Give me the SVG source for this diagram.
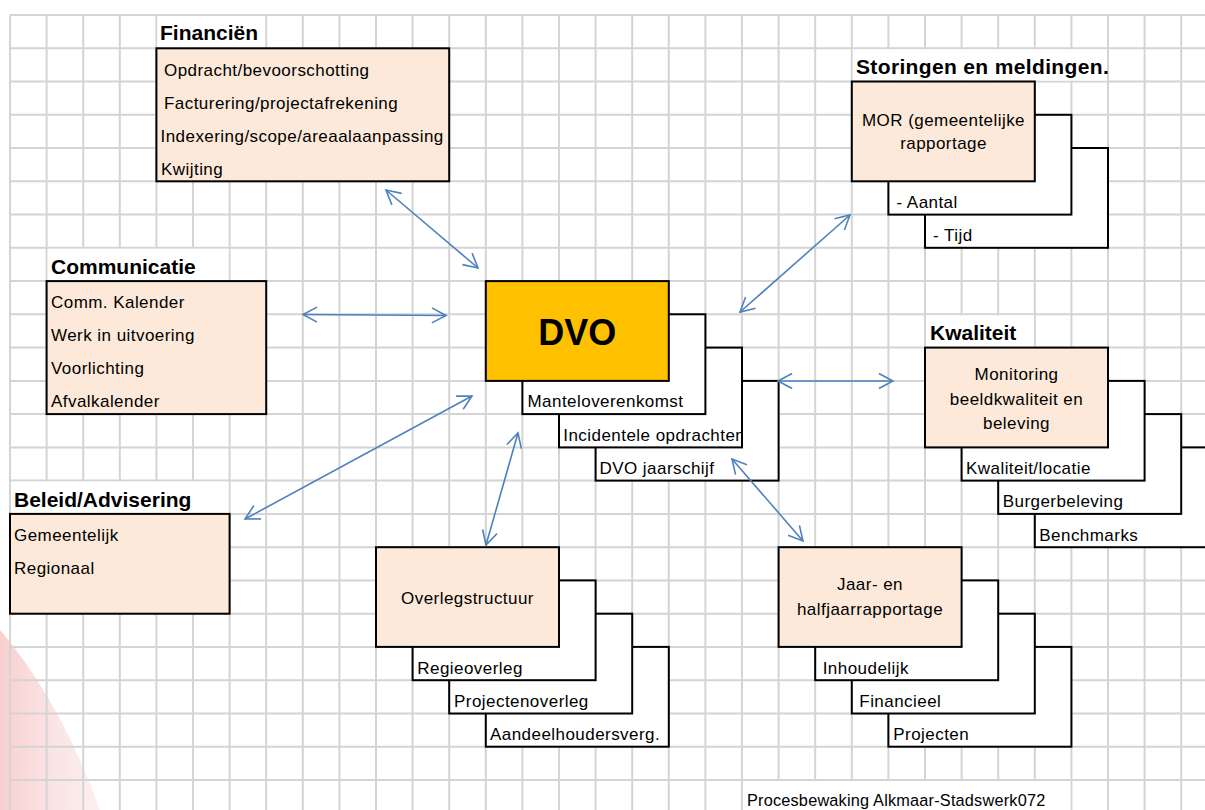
<svg xmlns="http://www.w3.org/2000/svg" width="1205" height="810" viewBox="0 0 1205 810">
<defs>
<style>
.grid{stroke:#d4d4d4;stroke-width:2;fill:none}
.wb{fill:#fff;stroke:none}
.box{fill:#fde9d9;stroke:#000;stroke-width:2}
.sub{fill:#fff;stroke:#000;stroke-width:2}
.dvo{fill:#ffc000;stroke:#000;stroke-width:2}
.t{font-family:"Liberation Sans",Arial,sans-serif;font-size:17px;letter-spacing:0.45px;fill:#000}
.c{text-anchor:middle}
.h{font-family:"Liberation Sans",Arial,sans-serif;font-size:21px;font-weight:bold;fill:#000}
.arr{stroke:#4f81bd;stroke-width:1.6;fill:none;marker-start:url(#ah);marker-end:url(#ah)}
</style>
<marker id="ah" viewBox="-1 -9 17 18" refX="14.1" refY="0" markerWidth="17" markerHeight="18" markerUnits="userSpaceOnUse" orient="auto-start-reverse">
<path d="M0,-7.5 L14.1,0 L0,7.5" fill="none" stroke="#4f81bd" stroke-width="1.6"/>
</marker>
<linearGradient id="pink" x1="0" y1="0" x2="1" y2="0">
<stop offset="0" stop-color="#f7d0d0"/>
<stop offset="0.4" stop-color="#fae0e0"/>
<stop offset="1" stop-color="#fdf0f0"/>
</linearGradient>
<clipPath id="clipInc"><rect x="559" y="347.6" width="183" height="99.8"/></clipPath>
</defs>
<rect width="1205" height="810" fill="#fff"/>
<path d="M0,630 Q60,700 100,810 L0,810 Z" fill="url(#pink)"/>
<path class="grid" d="M10,15V810M46.6,15V810M83.2,15V810M119.8,15V810M156.4,15V810M193,15V810M229.6,15V810M266.2,15V810M302.8,15V810M339.4,15V810M376,15V810M412.6,15V810M449.2,15V810M485.8,15V810M522.4,15V810M559,15V810M595.6,15V810M632.2,15V810M668.8,15V810M705.4,15V810M742,15V810M778.6,15V810M815.2,15V810M851.8,15V810M888.4,15V810M925,15V810M961.6,15V810M998.2,15V810M1034.8,15V810M1071.4,15V810M1108,15V810M1144.6,15V810M1181.2,15V810
M10,15H1205M10,48.3H1205M10,81.5H1205M10,114.8H1205M10,148H1205M10,181.3H1205M10,214.6H1205M10,247.8H1205M10,281.1H1205M10,314.3H1205M10,347.6H1205M10,380.9H1205M10,414.1H1205M10,447.4H1205M10,480.6H1205M10,513.9H1205M10,547.2H1205M10,580.4H1205M10,613.7H1205M10,646.9H1205M10,680.2H1205M10,713.5H1205M10,746.7H1205M10,780H1205"/>
<!-- title cell backgrounds -->
<rect class="wb" x="157.4" y="16" width="107.8" height="31.3"/>
<rect class="wb" x="47.6" y="248.8" width="181" height="31.3"/>
<rect class="wb" x="11" y="481.6" width="217.6" height="31.3"/>
<rect class="wb" x="852.8" y="49.3" width="254.2" height="31.2"/>
<rect class="wb" x="926" y="315.3" width="107.8" height="31.3"/>
<rect class="wb" x="743" y="781" width="327.4" height="29"/>

<g id="financien">
<text class="h" x="160" y="40">Financiën</text>
<rect class="box" x="156.4" y="48.3" width="292.8" height="133"/>
<text class="t" x="164" y="75.5">Opdracht/bevoorschotting</text>
<text class="t" x="164" y="108.5">Facturering/projectafrekening</text>
<text class="t" x="160.5" y="141.5">Indexering/scope/areaalaanpassing</text>
<text class="t" x="161" y="174.5">Kwijting</text>
</g>

<g id="communicatie">
<text class="h" x="51" y="274">Communicatie</text>
<rect class="box" x="46.6" y="281.1" width="219.6" height="133"/>
<text class="t" x="51" y="307.5">Comm. Kalender</text>
<text class="t" x="51" y="340.5">Werk in uitvoering</text>
<text class="t" x="51" y="374">Voorlichting</text>
<text class="t" x="51" y="407">Afvalkalender</text>
</g>

<g id="beleid">
<text class="h" x="14" y="506.5">Beleid/Advisering</text>
<rect class="box" x="10" y="513.9" width="219.6" height="99.8"/>
<text class="t" x="14" y="541">Gemeentelijk</text>
<text class="t" x="14" y="574">Regionaal</text>
</g>

<g id="dvo">
<rect class="sub" x="595.6" y="380.9" width="183" height="99.7"/>
<text class="t" x="599.5" y="473.5">DVO jaarschijf</text>
<rect class="sub" x="559" y="347.6" width="183" height="99.8"/>
<text class="t" x="563.3" y="440.5" clip-path="url(#clipInc)">Incidentele opdrachten</text>
<rect class="sub" x="522.4" y="314.3" width="183" height="99.8"/>
<text class="t" x="527.5" y="407">Manteloverenkomst</text>
<rect class="dvo" x="485.8" y="281.1" width="183" height="99.8"/>
<text x="577.3" y="345" text-anchor="middle" font-family="Liberation Sans, Arial, sans-serif" font-size="36" font-weight="bold" fill="#000">DVO</text>
</g>

<g id="storingen">
<text class="h" x="856" y="74" letter-spacing="0.35">Storingen en meldingen.</text>
<rect class="sub" x="925" y="148" width="183" height="99.8"/>
<text class="t" x="933" y="241">- Tijd</text>
<rect class="sub" x="888.4" y="114.8" width="183" height="99.8"/>
<text class="t" x="896.5" y="207.8">- Aantal</text>
<rect class="box" x="851.8" y="81.5" width="183" height="99.8"/>
<text class="t c" x="943.5" y="125.5">MOR (gemeentelijke</text>
<text class="t c" x="943.5" y="148.5">rapportage</text>
</g>

<g id="kwaliteit">
<text class="h" x="930" y="340">Kwaliteit</text>
<rect class="sub" x="1034.8" y="447.4" width="183" height="99.8"/>
<text class="t" x="1039.3" y="540.5">Benchmarks</text>
<rect class="sub" x="998.2" y="414.1" width="183" height="99.8"/>
<text class="t" x="1002.7" y="507">Burgerbeleving</text>
<rect class="sub" x="961.6" y="380.9" width="183" height="99.7"/>
<text class="t" x="966" y="473.5">Kwaliteit/locatie</text>
<rect class="box" x="925" y="347.6" width="183" height="99.8"/>
<text class="t c" x="1016.5" y="380">Monitoring</text>
<text class="t c" x="1016.5" y="404.5">beeldkwaliteit en</text>
<text class="t c" x="1016.5" y="429">beleving</text>
</g>

<g id="overleg">
<rect class="sub" x="485.8" y="646.9" width="183" height="99.8"/>
<text class="t" x="490" y="740">Aandeelhoudersverg.</text>
<rect class="sub" x="449.2" y="613.7" width="183" height="99.8"/>
<text class="t" x="454" y="707">Projectenoverleg</text>
<rect class="sub" x="412.6" y="580.4" width="183" height="99.8"/>
<text class="t" x="417.3" y="674">Regieoverleg</text>
<rect class="box" x="376" y="547.2" width="183" height="99.7"/>
<text class="t c" x="467.5" y="604">Overlegstructuur</text>
</g>

<g id="rapportage">
<rect class="sub" x="888.4" y="646.9" width="183" height="99.8"/>
<text class="t" x="893.3" y="740">Projecten</text>
<rect class="sub" x="851.8" y="613.7" width="183" height="99.8"/>
<text class="t" x="859.3" y="707">Financieel</text>
<rect class="sub" x="815.2" y="580.4" width="183" height="99.8"/>
<text class="t" x="822.7" y="673.5">Inhoudelijk</text>
<rect class="box" x="778.6" y="547.2" width="183" height="99.7"/>
<text class="t c" x="870" y="590">Jaar- en</text>
<text class="t c" x="870" y="615">halfjaarrapportage</text>
</g>

<g id="connectors">
<line class="arr" x1="386" y1="190" x2="478" y2="268"/>
<line class="arr" x1="303" y1="314.5" x2="446" y2="315.5"/>
<line class="arr" x1="850" y1="215" x2="740" y2="312"/>
<line class="arr" x1="778" y1="381" x2="893" y2="381"/>
<line class="arr" x1="732" y1="459" x2="803" y2="541"/>
<line class="arr" x1="518" y1="433" x2="486" y2="545"/>
<line class="arr" x1="472" y1="396" x2="245" y2="519"/>
</g>

<g id="footer">
<text class="t" x="747" y="806" style="font-size:16.3px;letter-spacing:0.2px">Procesbewaking Alkmaar-Stadswerk072</text>
</g>
</svg>
